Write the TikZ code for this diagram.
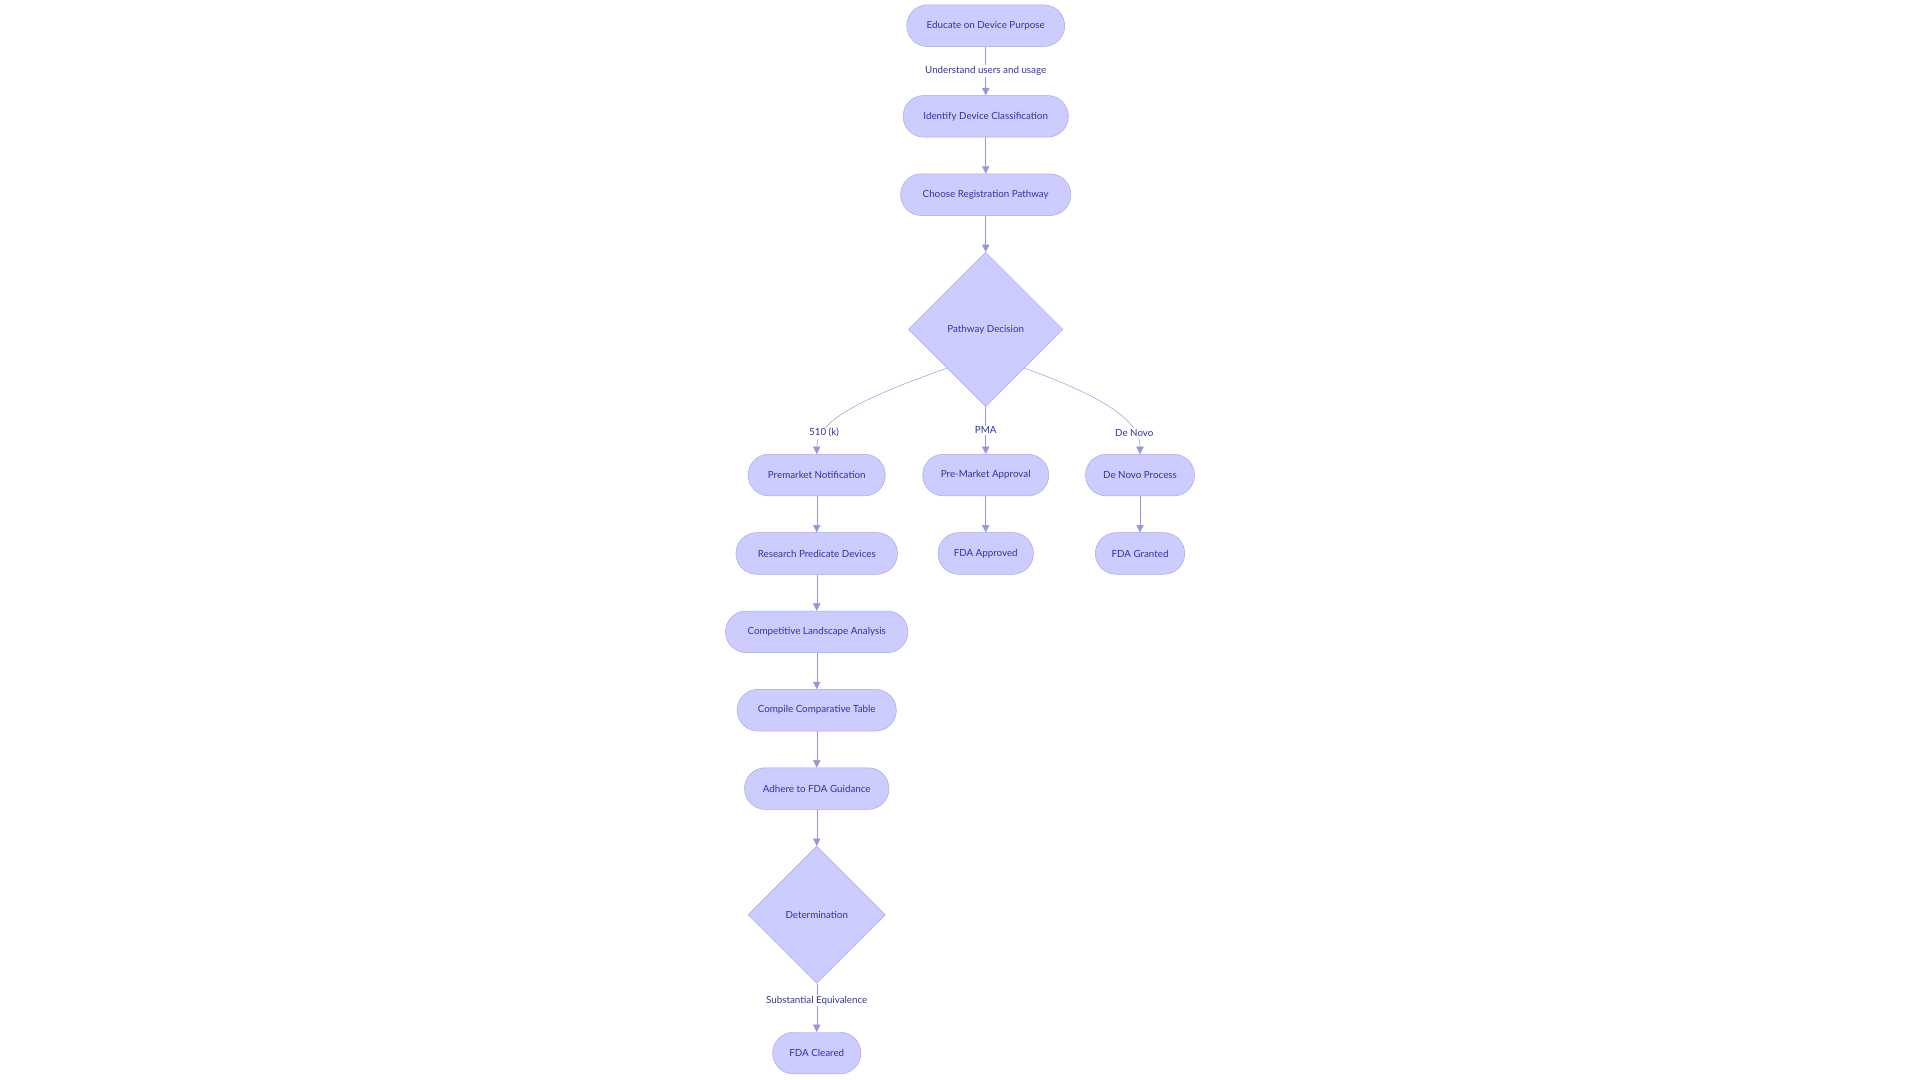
\documentclass[tikz,border=0pt]{standalone}
\usepackage{fontspec}
\setmainfont{Lato}
\usetikzlibrary{shapes.geometric,arrows.meta}
\definecolor{fillc}{HTML}{CCCCFF}
\definecolor{strokec}{HTML}{A6A6EC}
\definecolor{linec}{HTML}{9696DC}
\definecolor{textc}{HTML}{3333A0}
\begin{document}
\begin{tikzpicture}[x=1pt,y=-1pt,
  box/.style={draw=strokec,fill=fillc,rounded corners=17pt,minimum height=34pt,text=textc,font=\fontsize{8}{9}\selectfont,inner sep=0pt},
  dia/.style={draw=strokec,fill=fillc,diamond,aspect=1,text=textc,font=\fontsize{8}{9}\selectfont,inner sep=0pt},
  arr/.style={draw=linec,-{Triangle[length=6pt,width=6pt]}},
  lab/.style={text=textc,font=\fontsize{8}{9}\selectfont,fill=white,inner sep=1pt}]
\useasboundingbox (0,0) rectangle (1568,882);
\node[box,minimum width=129pt] (edu) at (805,21) {Educate on Device Purpose};
\node[box,minimum width=135pt] (ident) at (805,95) {Identify Device Classification};
\node[box,minimum width=139pt] (choose) at (805,159) {Choose Registration Pathway};
\node[dia,minimum width=126pt,minimum height=126pt] (path) at (805,269) {Pathway Decision};
\node[box,minimum width=112pt] (prem) at (667,388) {Premarket Notification};
\node[box,minimum width=103pt] (pma) at (805,388) {Pre-Market Approval};
\node[box,minimum width=89pt] (dn) at (931,388) {De Novo Process};
\node[box,minimum width=132pt] (res) at (667,452) {Research Predicate Devices};
\node[box,minimum width=78pt] (fapp) at (805,452) {FDA Approved};
\node[box,minimum width=73pt] (fgr) at (931,452) {FDA Granted};
\node[box,minimum width=149pt] (comp) at (667,516) {Competitive Landscape Analysis};
\node[box,minimum width=130pt] (ctab) at (667,580) {Compile Comparative Table};
\node[box,minimum width=118pt] (adh) at (667,644) {Adhere to FDA Guidance};
\node[dia,minimum width=112pt,minimum height=112pt] (det) at (667,747) {Determination};
\node[box,minimum width=72pt] (clr) at (667,860) {FDA Cleared};

\draw[arr] (edu) -- node[lab]{Understand users and usage} (ident);
\draw[arr] (ident) -- (choose);
\draw[arr] (choose) -- (path.north);
\draw[arr] (path.south west) .. controls (720,320) and (667,340) .. node[lab,pos=0.8]{510 (k)} (prem.north);
\draw[arr] (path.south) -- node[lab,pos=0.5]{PMA} (pma);
\draw[arr] (path.south east) .. controls (890,320) and (931,340) .. node[lab,pos=0.8]{De Novo} (dn.north);
\draw[arr] (prem) -- (res);
\draw[arr] (pma) -- (fapp);
\draw[arr] (dn) -- (fgr);
\draw[arr] (res) -- (comp);
\draw[arr] (comp) -- (ctab);
\draw[arr] (ctab) -- (adh);
\draw[arr] (adh) -- (det.north);
\draw[arr] (det.south) -- node[lab,pos=0.35]{Substantial Equivalence} (clr);
\end{tikzpicture}
\end{document}
